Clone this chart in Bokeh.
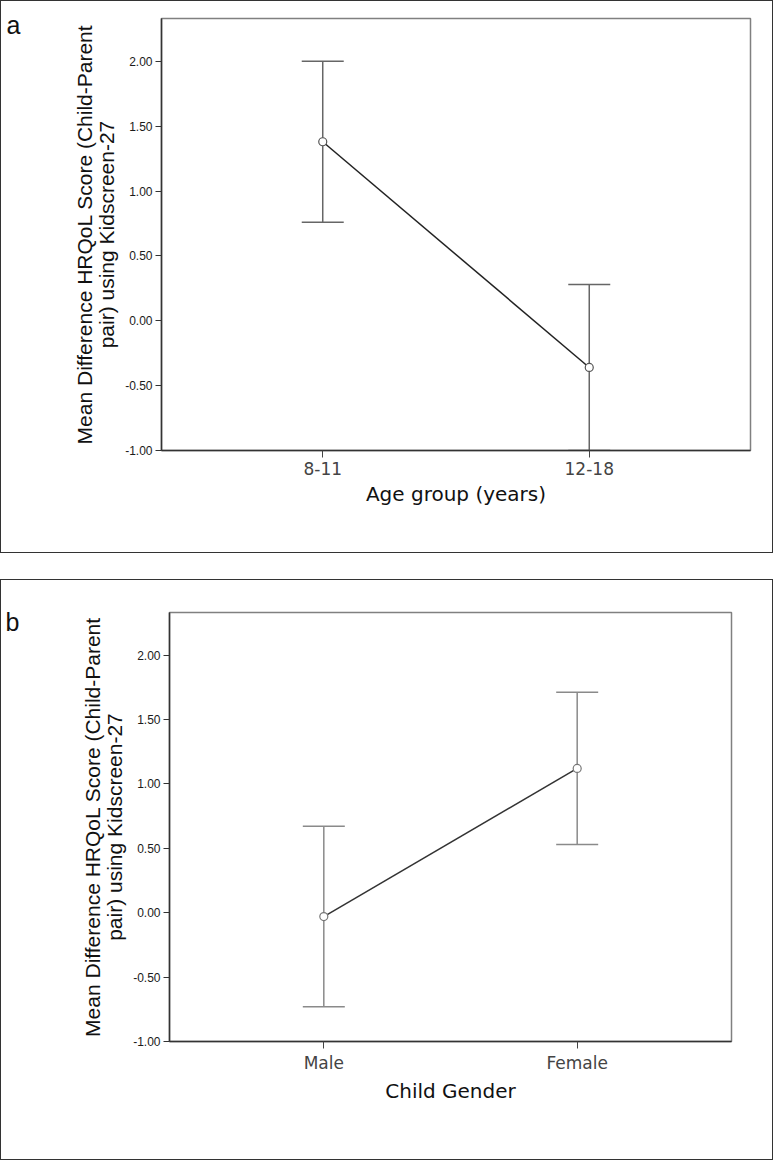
from bokeh.plotting import figure
from bokeh.models import (ColumnDataSource, FactorRange, Range1d, Whisker, TeeHead,
                          FixedTicker, NumeralTickFormatter, LinearAxis, Column)
from bokeh.embed import file_html
from bokeh.resources import INLINE

# ---- data ----
age_groups = ["8-11", "12-18"]
age_mean = [1.38, -0.36]
age_upper = [2.00, 0.28]
age_lower = [0.76, -1.00]

genders = ["Male", "Female"]
gender_mean = [-0.03, 1.12]
gender_upper = [0.67, 1.71]
gender_lower = [-0.73, 0.53]

y_ticks = [-1.0, -0.5, 0.0, 0.5, 1.0, 1.5, 2.0]
y_title = "Mean Difference HRQoL Score (Child-Parent\npair) using Kidscreen-27"


def make_panel(letter, letter_at, letter_standoff, cats, mean, upper, lower, xtitle,
               W, H, left, right, top, bottom, rpad, xt_standoff,
               bar_color, line_color, circ_color):
    p = figure(width=W, height=H, output_backend="svg", toolbar_location=None,
               x_range=FactorRange(*cats, range_padding=rpad),
               y_range=Range1d(-1.0, 2.33),
               min_border_left=left, min_border_right=right,
               min_border_top=top, min_border_bottom=bottom,
               background_fill_color="white", border_fill_color="white")
    p.xgrid.visible = False
    p.ygrid.visible = False
    p.outline_line_color = "#808080"
    p.outline_line_width = 1.5

    src = ColumnDataSource(dict(x=cats, m=mean, u=upper, l=lower))
    w = Whisker(base="x", upper="u", lower="l", source=src, dimension="height",
                line_color=bar_color, line_width=1.5,
                upper_head=TeeHead(size=42, line_color=bar_color, line_width=1.5),
                lower_head=TeeHead(size=42, line_color=bar_color, line_width=1.5))
    p.add_layout(w)
    p.line("x", "m", source=src, line_color=line_color, line_width=1.5)
    p.scatter("x", "m", source=src, marker="circle", size=8, fill_color="white",
              line_color=circ_color, line_width=1.2)

    # y axis
    ya = p.yaxis[0]
    ya.ticker = FixedTicker(ticks=y_ticks)
    ya.formatter = NumeralTickFormatter(format="0.00")
    ya.minor_tick_line_color = None
    ya.major_tick_out = 6
    ya.major_tick_in = 0
    ya.major_tick_line_color = "#333"
    ya.axis_line_color = "#333"
    ya.axis_line_width = 1.5
    ya.major_label_text_font = "Liberation Sans"
    ya.major_label_text_font_size = "12px"
    ya.major_label_text_color = "#1a1a1a"
    ya.major_label_standoff = 3
    ya.axis_label = y_title
    ya.axis_label_text_font = "Liberation Sans"
    ya.axis_label_text_font_size = "21px"
    ya.axis_label_text_font_style = "normal"
    ya.axis_label_text_color = "#111"
    ya.axis_label_text_line_height = 0.95
    ya.axis_label_standoff = 4

    # panel letter, carried by a bare outer axis
    la = LinearAxis(ticker=FixedTicker(ticks=[letter_at]),
                    major_label_overrides={letter_at: letter},
                    axis_line_color=None, major_tick_line_color=None,
                    minor_tick_line_color=None,
                    major_label_standoff=letter_standoff,
                    major_label_text_font="Liberation Sans",
                    major_label_text_font_size="25px",
                    major_label_text_color="#111")
    p.add_layout(la, "left")

    # x axis
    xa = p.xaxis[0]
    xa.major_tick_out = 7
    xa.major_tick_in = 0
    xa.major_tick_line_color = "#444"
    xa.axis_line_color = "#333"
    xa.axis_line_width = 1.5
    xa.major_label_text_font = "DejaVu Sans"
    xa.major_label_text_font_size = "17px"
    xa.major_label_text_color = "#444"
    xa.major_label_standoff = 4
    xa.axis_label = xtitle
    xa.axis_label_text_font = "DejaVu Sans"
    xa.axis_label_text_font_size = "20px"
    xa.axis_label_text_font_style = "normal"
    xa.axis_label_text_color = "#111"
    xa.axis_label_standoff = xt_standoff
    return p


pa = make_panel("a", 2.28, 44, age_groups, age_mean, age_upper, age_lower,
                "Age group (years)", 771, 551, 160, 22, 17, 102, 0.105, 4,
                "#666", "#222", "#555")
pb = make_panel("b", 2.26, 53, genders, gender_mean, gender_upper, gender_lower,
                "Child Gender", 771, 579, 168, 41, 32, 118, 0.109, 3,
                "#8a8a8a", "#333", "#777")

box_a = Column(children=[pa], styles={"border": "1px solid #333"})
box_b = Column(children=[pb], styles={"border": "1px solid #333", "margin-top": "26px"})

open("out.html", "w").write(file_html([box_a, box_b], INLINE))
